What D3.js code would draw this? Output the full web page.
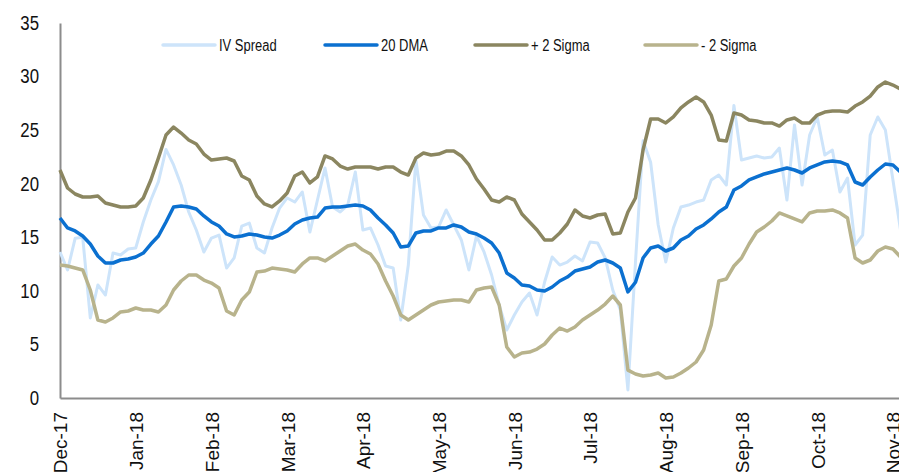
<!DOCTYPE html>
<html>
<head>
<meta charset="utf-8">
<script src="https://cdn.jsdelivr.net/npm/d3@7/dist/d3.min.js"></script>
<style>
  html, body { margin: 0; padding: 0; background: #fff; }
  svg { display: block; }
</style>
</head>
<body>
<div id="chart"></div>
<script>
// ---- Data (roughly 10 observations per month, Dec-17 .. Nov-18) ----
const monthLabels = ["Dec-17","Jan-18","Feb-18","Mar-18","Apr-18","May-18","Jun-18","Jul-18","Aug-18","Sep-18","Oct-18","Nov-18"];
const pointsPerMonth = 10;
const yTicks = [0, 5, 10, 15, 20, 25, 30, 35];

const ivSpread = [13.63, 11.95, 14.9, 15.0, 7.47, 10.55, 9.61, 13.53, 13.35, 13.91,
  14.0, 16.43, 18.48, 20.2, 23.2, 21.75, 19.88, 17.36, 15.68, 13.63,
  14.93, 15.21, 12.13, 13.07, 16.05, 16.33, 14.0, 13.53, 15.87, 17.73,
  18.67, 18.29, 19.23, 15.49, 18.48, 21.47, 17.83, 17.36, 18.01, 21.09,
  15.68, 15.87, 14.28, 12.32, 12.13, 7.28, 12.41, 22.21, 17.08, 15.87,
  15.96, 17.55, 16.15, 14.75, 11.95, 15.12, 13.63, 11.48, 8.68, 6.35,
  7.75, 8.96, 9.8, 7.75, 10.83, 13.16, 12.41, 12.69, 13.25, 12.79,
  14.56, 14.47, 13.07, 10.08, 8.21, 0.75, 12.69, 24.0, 22.0, 16.15,
  12.69, 15.87, 17.83, 18.01, 18.29, 18.48, 20.35, 20.81, 19.88, 27.3,
  22.21, 22.4, 22.59, 22.4, 22.49, 23.33, 18.48, 25.48, 19.88, 24.55,
  26.23, 22.68, 23.15, 19.23, 20.53, 14.28, 15.21, 24.55, 26.23, 25.01,
  20.35, 15.68];

const dma20 = [16.8, 15.87, 15.59, 15.12, 14.37, 13.25, 12.6, 12.6, 12.88, 12.97,
  13.16, 13.53, 14.37, 15.12, 16.43, 17.83, 17.92, 17.83, 17.64, 16.99,
  16.43, 16.05, 15.31, 15.03, 15.12, 15.31, 15.21, 15.03, 14.93, 15.21,
  15.59, 16.24, 16.61, 16.8, 16.89, 17.73, 17.83, 17.83, 17.92, 18.01,
  17.92, 17.55, 16.8, 16.15, 15.4, 14.09, 14.19, 15.4, 15.59, 15.59,
  15.87, 15.87, 16.15, 15.96, 15.49, 15.31, 14.93, 14.47, 13.53, 11.67,
  11.2, 10.55, 10.45, 10.08, 9.99, 10.36, 10.92, 11.29, 11.85, 12.04,
  12.23, 12.69, 12.88, 12.6, 12.13, 9.9, 10.8, 13.07, 14.0, 14.19,
  13.72, 14.0, 14.75, 15.12, 15.77, 16.15, 16.71, 17.36, 17.83, 19.41,
  19.79, 20.35, 20.63, 20.91, 21.09, 21.28, 21.47, 21.28, 21.0, 21.47,
  21.75, 22.03, 22.12, 22.03, 21.75, 20.16, 19.88, 20.63, 21.28, 21.84,
  21.75, 21.09];

const plus2Sigma = [21.28, 19.6, 19.04, 18.76, 18.76, 18.85, 18.2, 18.01, 17.83, 17.83,
  17.92, 18.67, 20.35, 22.4, 24.55, 25.29, 24.73, 24.08, 23.71, 22.77,
  22.21, 22.31, 22.4, 22.12, 20.72, 20.35, 18.85, 18.11, 17.83, 18.39,
  19.13, 20.72, 21.09, 20.07, 20.63, 22.59, 22.31, 21.65, 21.37, 21.56,
  21.56, 21.56, 21.37, 21.56, 21.56, 21.09, 20.81, 22.4, 22.87, 22.68,
  22.77, 23.05, 23.05, 22.59, 21.75, 20.44, 19.51, 18.48, 18.29, 18.76,
  18.48, 17.17, 16.43, 15.68, 14.75, 14.75, 15.4, 16.24, 17.55, 16.99,
  16.8, 17.08, 17.17, 15.31, 15.4, 17.36, 18.67, 23.15, 26.04, 26.04,
  25.67, 26.23, 27.07, 27.63, 28.09, 27.63, 26.41, 24.08, 23.99, 26.6,
  26.41, 25.95, 25.85, 25.67, 25.67, 25.38, 25.95, 26.13, 25.67, 25.67,
  26.41, 26.69, 26.78, 26.78, 26.69, 27.25, 27.63, 28.18, 29.03, 29.49,
  29.21, 28.84];

const minus2Sigma = [12.41, 12.32, 12.13, 11.95, 10.08, 7.28, 7.09, 7.47, 8.03, 8.12,
  8.4, 8.21, 8.21, 8.03, 8.68, 10.08, 10.92, 11.48, 11.48, 11.01,
  10.73, 10.27, 8.12, 7.75, 9.15, 9.89, 11.76, 11.85, 12.13, 12.04,
  11.95, 11.76, 12.51, 13.07, 13.07, 12.79, 13.25, 13.72, 14.19, 14.37,
  13.81, 13.44, 12.51, 10.92, 9.52, 7.75, 7.28, 7.75, 8.21, 8.68,
  8.96, 9.05, 9.15, 9.15, 8.96, 10.08, 10.27, 10.36, 8.68, 4.76,
  3.83, 4.2, 4.29, 4.57, 5.04, 5.88, 6.53, 6.25, 6.63, 7.28,
  7.75, 8.21, 8.77, 9.52, 8.68, 2.6, 2.24, 2.05, 2.15, 2.33,
  1.87, 1.96, 2.33, 2.8, 3.36, 4.48, 6.81, 10.92, 11.11, 12.32,
  13.07, 14.37, 15.49, 15.96, 16.52, 17.27, 17.0, 16.71, 16.43, 17.27,
  17.45, 17.45, 17.55, 17.27, 16.8, 13.07, 12.6, 12.88, 13.72, 14.09,
  13.91, 13.16];

const seriesNames = ["IV Spread", "20 DMA", "+ 2 Sigma", "- 2 Sigma"];
const seriesColors = ["#cde4fa", "#0b70d0", "#8b8660", "#b8b38c"];

// ---- Layout ----
const W = 899, H = 472;
const margin = { left: 60, top: 23, bottom: 74 };
const plotBottom = H - margin.bottom; // 398

const svg = d3.select("#chart").append("svg")
  .attr("width", W).attr("height", H);

// condense text (narrow font look) without changing its height
function condense(sel, factor) {
  sel.each(function () {
    const w = this.getComputedTextLength();
    if (w > 0) {
      d3.select(this).attr("textLength", (w * factor).toFixed(2))
        .attr("lengthAdjust", "spacingAndGlyphs");
    }
  });
}

const x = d3.scaleLinear().domain([0, 110.8]).range([margin.left, W]);
const y = d3.scaleLinear().domain([0, 35]).range([plotBottom, margin.top]);

// Axes
const yAxis = d3.axisLeft(y).tickValues(yTicks).tickSize(0).tickSizeOuter(0).tickPadding(21);
const gy = svg.append("g").attr("transform", `translate(${margin.left},0)`).call(yAxis);
gy.select(".domain").attr("stroke", "#8c8c8c").attr("stroke-width", 2);
gy.selectAll("text")
  .attr("font-family", "'Liberation Sans', Arial, sans-serif")
  .attr("font-size", 20).attr("fill", "#111");
condense(gy.selectAll("text"), 0.84);

const tickIdx = monthLabels.map((_, i) => i * pointsPerMonth);
const xAxis = d3.axisBottom(x).tickValues(tickIdx).tickSize(0).tickSizeOuter(0)
  .tickFormat((d, i) => monthLabels[i]);
const gx = svg.append("g").attr("transform", `translate(0,${plotBottom})`).call(xAxis);
gx.select(".domain").attr("stroke", "#8c8c8c").attr("stroke-width", 2);
gx.selectAll("text")
  .attr("font-family", "'Liberation Sans', Arial, sans-serif")
  .attr("font-size", 19).attr("fill", "#111")
  .attr("transform", "rotate(-90)")
  .attr("text-anchor", "end")
  .attr("x", -14).attr("y", 0).attr("dy", "0.36em");

// Lines
const allSeries = [ivSpread, dma20, plus2Sigma, minus2Sigma];
const widths = [3, 3.5, 3.5, 3.5];
const line = d3.line().x((d, i) => x(i)).y(d => y(d)).curve(d3.curveLinear);
allSeries.forEach((s, k) => {
  svg.append("path").datum(s)
    .attr("fill", "none")
    .attr("stroke", seriesColors[k])
    .attr("stroke-width", widths[k])
    .attr("stroke-linejoin", "round")
    .attr("d", line);
});

// Legend
const legendX = [163, 325, 475, 645];
const legendY = 45;
const lg = svg.append("g").attr("font-family", "'Liberation Sans', Arial, sans-serif")
  .attr("font-size", 16).attr("fill", "#111");
seriesNames.forEach((name, k) => {
  lg.append("line")
    .attr("x1", legendX[k]).attr("x2", legendX[k] + 52)
    .attr("y1", legendY).attr("y2", legendY)
    .attr("stroke", seriesColors[k]).attr("stroke-width", 3.5).attr("stroke-linecap", "round");
  lg.append("text")
    .attr("x", legendX[k] + 56).attr("y", legendY).attr("dy", "0.36em")
    .text(name);
});
condense(lg.selectAll("text"), 0.81);
</script>
</body>
</html>
